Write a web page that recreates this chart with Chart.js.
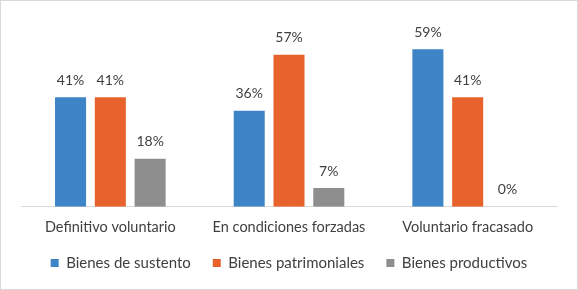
<!DOCTYPE html>
<html>
<head>
<meta charset="utf-8">
<script src="https://cdn.jsdelivr.net/npm/chart.js@4.4.0/dist/chart.umd.min.js"></script>
<style>
    html, body { margin: 0; padding: 0; background: #fff; }
    .chart-container {
        width: 578px;
        height: 290px;
        box-sizing: border-box;
        border: 1px solid #d9d9d9;
        position: relative;
    }
</style>
</head>
<body>
<div class="chart-container">
    <canvas id="barChart"></canvas>
</div>
<script>
// 類別與數據 (%)
const categories = ['Definitivo voluntario', 'En condiciones forzadas', 'Voluntario fracasado'];
const seriesNames = ['Bienes de sustento', 'Bienes patrimoniales', 'Bienes productivos'];
const sustento = [41, 36, 59];
const patrimoniales = [41, 57, 41];
const productivos = [18, 7, 0];
const seriesColors = ['#3d85c6', '#e8632b', '#8e8e8e'];

const textColor = '#404040';
const fontFamily = 'Lato, "Open Sans", sans-serif';

// 在柱子上方畫百分比
const valueLabels = {
    id: 'valueLabels',
    afterDatasetsDraw(chart) {
        const ctx = chart.ctx;
        ctx.save();
        ctx.font = '14px ' + fontFamily;
        ctx.fillStyle = textColor;
        ctx.textAlign = 'center';
        ctx.textBaseline = 'middle';
        chart.data.datasets.forEach(function(ds, i) {
            const meta = chart.getDatasetMeta(i);
            meta.data.forEach(function(bar, j) {
                ctx.fillText(ds.data[j] + '%', bar.x, bar.y - 17);
            });
        });
        ctx.restore();
    }
};

document.addEventListener('DOMContentLoaded', function() {
    const ctx = document.getElementById('barChart').getContext('2d');
    const values = [sustento, patrimoniales, productivos];

    new Chart(ctx, {
        type: 'bar',
        data: {
            labels: categories,
            datasets: seriesNames.map(function(name, i) {
                return {
                    label: name,
                    data: values[i],
                    backgroundColor: seriesColors[i],
                    borderWidth: 0,
                    categoryPercentage: 0.668,
                    barPercentage: 0.78
                };
            })
        },
        options: {
            responsive: true,
            maintainAspectRatio: false,
            animation: false,
            layout: {
                padding: { top: 19, left: 20, right: 20, bottom: 8.5 }
            },
            plugins: {
                tooltip: { enabled: false },
                legend: {
                    position: 'bottom',
                    labels: {
                        boxWidth: 8,
                        boxHeight: 8,
                        padding: 22,
                        color: textColor,
                        font: { size: 15, family: fontFamily }
                    }
                }
            },
            scales: {
                x: {
                    grid: { display: false, drawTicks: false },
                    border: { display: true, color: '#d9d9d9', width: 1 },
                    ticks: {
                        color: textColor,
                        padding: 12.3,
                        maxRotation: 0,
                        font: { size: 14.5, family: fontFamily }
                    },
                    // 縮小 x 軸高度，讓圖例靠近
                    afterFit: function(scale) {
                        scale.height = 26.8;
                    }
                },
                y: {
                    display: false,
                    min: 0,
                    max: 70
                }
            }
        },
        plugins: [valueLabels]
    });
});
</script>
</body>
</html>
